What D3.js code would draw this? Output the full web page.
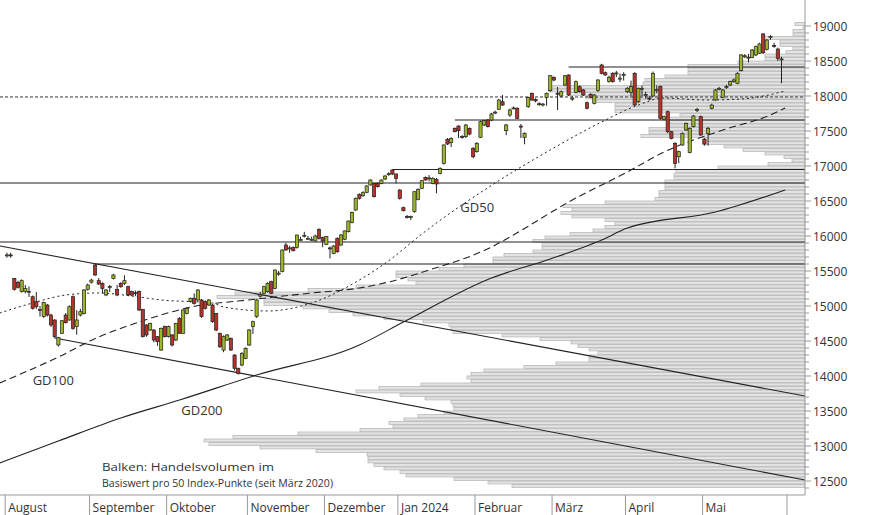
<!DOCTYPE html>
<html><head><meta charset="utf-8">
<script src="https://cdn.jsdelivr.net/npm/d3@7"></script>
<style>body{margin:0;background:#fff}svg{display:block}text{font-family:"Open Sans",sans-serif}</style>
</head><body><svg id="c" width="874" height="515"></svg>
<script>
// ---- data ----
const candles = [
[15720,15760,15690,15730],[15730,15760,15690,15720],[15395,15400,15220,15238],[15338,15360,15250,15267],[15205,15380,15190,15362],
[15205,15300,15180,15252],[15200,15280,15130,15210],[15133,15150,14950,14967],[15062,15200,14960,14990],[14950,15000,14850,14940],
[14848,15060,14830,15048],[15014,15030,14850,14871],[14871,14890,14700,14729],[14800,14810,14540,14562],[14443,14560,14420,14552],
[14610,14800,14600,14790],[14871,14900,14750,14762],[14800,15010,14790,14990],[15133,15150,14660,14681],[14705,14940,14590,14800],
[14871,14960,14850,14919],[14895,15240,14880,15229],[15238,15320,15220,15300],[15340,15390,15320,15370],[15586,15600,15430,15443],
[15362,15400,15300,15314],[15320,15340,15180,15250],[15157,15240,15140,15229],[15270,15300,15200,15280],[15395,15460,15380,15443],
[15238,15300,15140,15157],[15324,15340,15260,15276],[15324,15440,15300,15362],[15276,15290,15140,15157],[15205,15220,15140,15157],
[15190,15220,15140,15180],[15205,15220,14930,14943],[14952,14960,14550,14562],[14729,14740,14560,14586],[14657,14760,14640,14752],
[14657,14670,14480,14514],[14562,14570,14430,14490],[14371,14690,14360,14681],[14705,14720,14550,14562],[14562,14720,14550,14705],
[14586,14600,14420,14443],[14514,14760,14500,14752],[14824,14840,14600,14610],[14610,14950,14600,14943],[14895,14980,14880,14967],
[15062,15120,15050,15110],[15110,15180,15020,15038],[15086,15240,15070,15229],[15086,15100,14830,14848],[15062,15080,14950,14967],
[15014,15100,15000,15086],[15014,15030,14760,14776],[14895,14900,14640,14657],[14610,14620,14400,14419],[14371,14580,14340,14562],
[14514,14600,14500,14586],[14538,14550,14360,14371],[14300,14310,14080,14110],[14110,14120,14020,14038],[14157,14340,14140,14324],
[14252,14410,14240,14395],[14443,14670,14430,14657],[14705,14790,14600,14776],[14848,15100,14830,15086],[15140,15200,15120,15160],
[15181,15290,15170,15276],[15205,15340,15190,15324],[15348,15360,15170,15181],[15252,15520,15240,15514],[15460,15500,15430,15470],
[15491,15810,15480,15800],[15871,15900,15790,15800],[15820,15860,15760,15830],[15838,15850,15780,15790],[15838,16020,15820,16014],
[15950,15990,15940,15950],[16000,16060,15980,16010],[15967,16000,15950,15967],[15953,15990,15930,15953],[15929,16020,15920,16000],
[16095,16110,15950,15967],[15977,15990,15840,15929],[15881,16000,15870,15991],[15830,15850,15680,15820],[15752,15870,15740,15857],
[15967,15980,15760,15776],[15871,16030,15860,16014],[15953,16080,15940,16072],[16062,16220,16050,16214],[16191,16350,16180,16338],
[16371,16550,16360,16538],[16595,16610,16520,16538],[16576,16640,16560,16619],[16624,16730,16610,16714],[16729,16810,16720,16800],
[16752,16760,16550,16562],[16752,16770,16690,16705],[16752,16810,16740,16800],[16814,16870,16800,16857],[16880,16910,16860,16890],
[16943,16950,16870,16886],[16886,16890,16750,16824],[16657,16670,16520,16538],[16405,16420,16350,16362],[16280,16300,16250,16270],
[16270,16290,16230,16280],[16348,16640,16330,16633],[16524,16680,16510,16667],[16681,16800,16670,16790],[16838,16850,16790,16800],
[16820,16870,16780,16830],[16752,16840,16740,16824],[16810,16830,16610,16743],[16895,16980,16880,16967],[17038,17310,17020,17300],
[17381,17400,17300,17314],[17333,17410,17270,17395],[17538,17550,17480,17490],[17571,17580,17400,17505],[17420,17440,17390,17410],
[17419,17600,17400,17586],[17538,17550,17440,17457],[17252,17270,17110,17133],[17205,17340,17190,17324],[17410,17650,17400,17633],
[17586,17660,17570,17648],[17657,17670,17550,17562],[17657,17760,17640,17743],[17760,17790,17740,17770],[17810,17960,17800,17943],
[17919,18014,17860,17871],[17505,17600,17440,17586],[17728,17820,17700,17800],[17820,17850,17810,17830],[17824,17840,17670,17681],
[17570,17600,17400,17560],[17410,17480,17310,17467],[17848,17990,17830,17981],[18038,18050,17930,17943],[17952,17970,17910,17929],
[17885,17910,17860,17890],[17880,17900,17850,17885],[17981,18050,17860,18038],[18076,18300,18060,18290],[18267,18280,18210,18228],
[18040,18130,17800,18030],[18000,18080,17980,18060],[18157,18300,18140,18290],[18300,18310,18000,18014],[17960,18000,17930,17970],
[18052,18220,18040,18205],[18133,18150,18050,18062],[18086,18100,18000,18014],[17905,17920,17810,17824],[18024,18040,17970,17981],
[17895,18030,17880,18014],[18077,18240,18060,18229],[18443,18460,18310,18324],[18333,18350,18290,18300],[18205,18290,18190,18267],
[18324,18340,18190,18205],[18320,18360,18270,18330],[18250,18320,18200,18255],[18300,18340,18220,18310],[18062,18130,18040,18110],
[18048,18220,18000,18134],[18324,18340,17860,17872],[17919,18120,17900,18110],[18100,18150,18000,18110],[18010,18060,17960,18020],
[17970,18000,17940,17960],[18000,18350,17990,18324],[18080,18150,18040,18090],[18134,18150,17660,17681],[17667,17720,17650,17705],
[17776,17790,17470,17490],[17490,17500,17380,17395],[17324,17340,16967,17038],[17133,17220,17040,17205],[17300,17480,17290,17467],
[17515,17620,17500,17610],[17191,17550,17180,17538],[17562,17730,17550,17714],[17800,17830,17770,17810],[17705,17720,17430,17443],
[17381,17400,17290,17314],[17467,17560,17290,17538],[17824,17890,17810,17871],[17943,18100,17930,18086],[18100,18130,18080,18110],
[17981,18100,17970,18086],[18130,18160,18100,18135],[18157,18220,18140,18205],[18205,18250,18190,18229],[18181,18340,18170,18324],
[18362,18600,18350,18586],[18570,18600,18540,18575],[18555,18600,18480,18550],[18552,18670,18540,18657],[18586,18720,18570,18705],
[18610,18760,18600,18743],[18886,18900,18600,18619],[18667,18810,18650,18800],[18845,18870,18800,18850],[18720,18760,18690,18710],
[18671,18690,18500,18538],[18520,18560,18181,18530]
];
// volume profile: bucket lower bounds from 12400 in 50-pt steps, relative volume
const volStart = 12400;
const volume = [293,317,351,399,405,421,431,437,437,438,489,545,596,601,572,507,445,412,416,401,387,361,351,352,354,380,405,449,426,384,334,338,334,321,281,249,216,216,207,216,227,234,265,303,352,354,356,382,421,452,476,502,541,541,588,570,497,449,389,397,409,409,366,341,312,312,301,272,263,263,272,260,235,212,200,190,200,233,244,233,242,200,150,146,146,140,140,140,131,131,129,87,37,13,21,40,62,81,102,102,164,156,156,138,138,137,125,190,190,190,208,219,237,256,252,162,160,140,117,117,117,67,40,40,19,12,25,25,42,12,12,2,10];
const gd50 = [[-2,14900],[7,15043],[16,15157],[25,15186],[34,15143],[42,15086],[56,15043],[59,14986],[71,14929],[83,15043],[96,15371],[105,15686],[112,15986],[133,16757],[148,17229],[162,17629],[172,17871],[179,17971],[190,17943],[200,17957],[212,18071]];
const gd100 = [[-2,13900],[14,14271],[25,14557],[36,14771],[53,15014],[63,15071],[83,15186],[96,15257],[104,15343],[115,15514],[132,15843],[137,15986],[154,16514],[169,16914],[179,17200],[195,17514],[208,17729],[212,17829]];
const gd200 = [[-2,12757],[14,13071],[31,13400],[47,13657],[68,14014],[96,14443],[108,14771],[132,15400],[148,15671],[162,15943],[169,16114],[193,16343],[212,16657]];
const hLines = [[153,18414],[122,17657],[105,16950],[-2,16757],[-2,15914],[24,15600]];
const dottedLevel = 17986;
const trendLines = [[[-1.9,15857],[217.4,13714]],[[13,14543],[217.4,12514]]];
const months = ["August","September","Oktober","November","Dezember","Jan 2024","Februar","März","April","Mai"];
const monthStarts = [0,23,44,66,87,107,128,149,169,190];
const monthEnd = 212;
const yTicks = d3.range(12500, 19001, 500);
const labels = [["GD100",7,13870],["GD50",123.5,16350],["GD200",47.5,13450]];
const note = ["Balken: Handelsvolumen im","Basiswert pro 50 Index-Punkte (seit März 2020)"];

// ---- drawing ----
const svg = d3.select("#c");
const R = 805, B = 495;
const x = d3.scaleLinear().domain([-1.9, 217.4]).range([0, R]);
const y = d3.scaleLinear().domain([12500, 19000]).range([481, 26]);
const vw = d3.scaleLinear().domain([0, 100]).range([0, 100]);

const plot = svg.append("g");
svg.append("defs").append("clipPath").attr("id","cp").append("rect").attr("width",R).attr("height",B);
plot.attr("clip-path","url(#cp)");

plot.selectAll("rect.v").data(volume).join("rect")
  .attr("x", d => R - vw(d)).attr("width", d => vw(d))
  .attr("y", (d,i) => y(volStart + 50*(i+1))).attr("height", (d,i) => y(volStart+50*i) - y(volStart+50*(i+1)) - 0.6)
  .attr("fill","#e3e3e3").attr("stroke","#b9b9b9").attr("stroke-width",0.8);

plot.selectAll("line.h").data(hLines).join("line")
  .attr("x1", d => x(d[0])).attr("x2", R).attr("y1", d => y(d[1])).attr("y2", d => y(d[1]))
  .attr("stroke","#222").attr("stroke-width",1.2);
plot.append("line").attr("x1",0).attr("x2",R).attr("y1",y(dottedLevel)).attr("y2",y(dottedLevel))
  .attr("stroke","#333").attr("stroke-dasharray","3,2");
plot.selectAll("line.t").data(trendLines).join("line")
  .attr("x1", d => x(d[0][0])).attr("y1", d => y(d[0][1])).attr("x2", d => x(d[1][0])).attr("y2", d => y(d[1][1]))
  .attr("stroke","#222").attr("stroke-width",1.1);

const ln = d3.line().x(d => x(d[0])).y(d => y(d[1])).curve(d3.curveMonotoneX);
plot.append("path").attr("d", ln(gd50)).attr("fill","none").attr("stroke","#222").attr("stroke-dasharray","2,3").attr("stroke-width",1);
plot.append("path").attr("d", ln(gd100)).attr("fill","none").attr("stroke","#222").attr("stroke-dasharray","7,4").attr("stroke-width",1.1);
plot.append("path").attr("d", ln(gd200)).attr("fill","none").attr("stroke","#222").attr("stroke-width",1.1);

const cg = plot.selectAll("g.c").data(candles).join("g");
cg.append("line").attr("x1",(d,i)=>x(i)).attr("x2",(d,i)=>x(i)).attr("y1",d=>y(d[1])).attr("y2",d=>y(d[2]))
  .attr("stroke","#222").attr("stroke-width",1);
cg.append("rect").attr("x",(d,i)=>x(i)-1.6).attr("width",3.2)
  .attr("y",d=>y(Math.max(d[0],d[3]))).attr("height",d=>Math.max(1,Math.abs(y(d[0])-y(d[3]))))
  .attr("fill",d=>d[3]>=d[0]?"#9bb62a":"#b8322a").attr("stroke","#222").attr("stroke-width",0.7);

svg.selectAll("text.l").data(labels).join("text").attr("x",d=>x(d[1])).attr("y",d=>y(d[2]))
  .text(d=>d[0]).attr("font-size",13).attr("fill","#333");
svg.selectAll("text.n").data(note).join("text").attr("x",102).attr("y",(d,i)=>471+i*16)
  .text(d=>d).attr("font-size",11.5).attr("fill","#333").attr("textLength",(d,i)=>i?231:172).attr("lengthAdjust","spacingAndGlyphs");

svg.append("line").attr("x1",R).attr("x2",R).attr("y1",0).attr("y2",B).attr("stroke","#999");
svg.selectAll("line.mt").data(d3.range(12400,19001,100)).join("line")
  .attr("x1",R).attr("x2",d=>d%500===0?R+6:R+4).attr("y1",d=>y(d)).attr("y2",d=>y(d)).attr("stroke","#999");
svg.selectAll("text.yt").data(yTicks).join("text").attr("x",813).attr("y",d=>y(d)+4.5)
  .text(d=>d).attr("font-size",12).attr("fill","#333");

svg.append("line").attr("x1",0).attr("x2",R).attr("y1",B).attr("y2",B).attr("stroke","#999");
const seps = monthStarts.concat([monthEnd+1]);
svg.selectAll("line.ms").data(seps).join("line").attr("x1",d=>x(d-0.5)).attr("x2",d=>x(d-0.5))
  .attr("y1",B).attr("y2",515).attr("stroke","#999");
svg.selectAll("text.m").data(months).join("text").attr("x",(d,i)=>x(monthStarts[i]-0.5)+3).attr("y",512)
  .text(d=>d).attr("font-size",12).attr("fill","#333");
</script></body></html>
